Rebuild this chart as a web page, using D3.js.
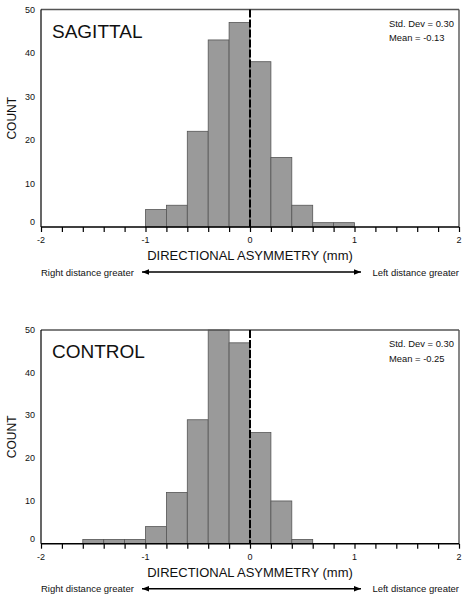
<!DOCTYPE html>
<html>
<head>
<meta charset="utf-8">
<script src="https://cdn.jsdelivr.net/npm/d3@7"></script>
<style>
  html, body { margin: 0; padding: 0; background: #fff; }
  svg { display: block; }
  text { font-family: "Liberation Sans", Arial, Helvetica, sans-serif; fill: #111; }
</style>
</head>
<body>
<svg id="chart" width="467" height="599"></svg>
<script>
// ---- data ----
const binWidth = 0.2;
const sagittalBins = [-1.0, -0.8, -0.6, -0.4, -0.2, 0.0, 0.2, 0.4, 0.6, 0.8];
const sagittalCounts = [4, 5, 22, 43, 47, 38, 16, 5, 1, 1];
const controlBins = [-1.6, -1.4, -1.2, -1.0, -0.8, -0.6, -0.4, -0.2, 0.0, 0.2, 0.4];
const controlCounts = [1, 1, 1, 4, 12, 29, 50, 47, 26, 10, 1];
const yTicks = [0, 10, 20, 30, 40, 50];
const xLabelTicks = [-2, -1, 0, 1, 2];
const xMinorTicks = d3.range(-10, 11).map(i => i / 5);
const panelTitles = ["SAGITTAL", "CONTROL"];
const statStd = ["Std. Dev = 0.30", "Std. Dev = 0.30"];
const statMean = ["Mean = -0.13", "Mean = -0.25"];
const xTitle = "DIRECTIONAL ASYMMETRY (mm)";
const yTitle = "COUNT";
const leftNote = "Right distance greater";
const rightNote = "Left distance greater";

const svg = d3.select("#chart");
const defs = svg.append("defs");
defs.append("marker").attr("id", "ah").attr("viewBox", "0 0 10 10")
  .attr("refX", 10).attr("refY", 5).attr("markerWidth", 7).attr("markerHeight", 7)
  .attr("markerUnits", "userSpaceOnUse").attr("orient", "auto-start-reverse")
  .append("path").attr("d", "M0,1 L10,5 L0,9 Z").attr("fill", "#000");

function panel(cfg) {
  const g = svg.append("g");
  const x = d3.scaleLinear().domain([-2, 2]).range([41, 459]);
  const y = d3.scaleLinear().domain([0, 50]).range([cfg.bottom, cfg.top]);

  // bars
  g.selectAll("rect.bar").data(cfg.bins.map((b, i) => ({ b, c: cfg.counts[i] })))
    .enter().append("rect")
    .attr("x", d => x(d.b))
    .attr("width", d => x(d.b + binWidth) - x(d.b))
    .attr("y", d => y(d.c))
    .attr("height", d => y(0) - y(d.c))
    .attr("fill", "#9a9a9a")
    .attr("stroke", "#555")
    .attr("stroke-width", 0.8);

  // frame top and right (gray)
  g.append("line").attr("x1", x(-2)).attr("x2", x(2)).attr("y1", y(50)).attr("y2", y(50))
    .attr("stroke", "#555").attr("stroke-width", 1.4);
  g.append("line").attr("x1", x(2)).attr("x2", x(2)).attr("y1", y(50)).attr("y2", y(0))
    .attr("stroke", "#555").attr("stroke-width", 1.4);

  // zero dashed line
  g.append("line").attr("x1", x(0)).attr("x2", x(0)).attr("y1", y(50)).attr("y2", y(0))
    .attr("stroke", "#000").attr("stroke-width", 2).attr("stroke-dasharray", "8,2");

  // left axis line
  g.append("line").attr("x1", x(-2)).attr("x2", x(-2)).attr("y1", y(50)).attr("y2", y(0))
    .attr("stroke", "#000").attr("stroke-width", 1.2);

  // y tick labels
  g.selectAll("text.yt").data(yTicks).enter().append("text")
    .attr("x", 35).attr("y", d => y(d) + (d === 0 ? -2 : 3))
    .attr("text-anchor", "end").attr("font-size", 9).attr("fill", "#333")
    .text(d => d);

  // x axis
  const xAxis = d3.axisBottom(x).tickValues(xMinorTicks).tickSize(5).tickFormat("");
  const ax = g.append("g").attr("transform", `translate(0,${y(0)})`).call(xAxis);
  ax.select(".domain").attr("stroke-width", 1.6).attr("d", `M${x(-2)},0H${x(2)}`);
  ax.selectAll(".tick line").attr("stroke-width", 1.2);
  g.selectAll("text.xt").data(xLabelTicks).enter().append("text")
    .attr("x", d => x(d)).attr("y", y(0) + 16)
    .attr("text-anchor", "middle").attr("font-size", 9).attr("fill", "#333")
    .text(d => d);

  // titles
  g.append("text").attr("x", 250).attr("y", y(0) + 33)
    .attr("text-anchor", "middle").attr("font-size", 13).text(xTitle);
  g.append("text").attr("transform", `translate(15.5,${(y(0) + y(50)) / 2}) rotate(-90)`)
    .attr("text-anchor", "middle").attr("font-size", 12).text(yTitle);
  g.append("text").attr("x", 52).attr("y", y(50) + 28).attr("font-size", 19).text(cfg.title);
  g.append("text").attr("x", 389).attr("y", y(50) + 17).attr("font-size", 9.4).text(cfg.std);
  g.append("text").attr("x", 389).attr("y", y(50) + 31.5).attr("font-size", 9.4).text(cfg.mean);

  // arrow notes
  const ay = y(0) + 45;
  g.append("text").attr("x", 41).attr("y", ay + 3.5).attr("font-size", 9.5).text(leftNote);
  g.append("text").attr("x", 459).attr("y", ay + 3.5).attr("text-anchor", "end").attr("font-size", 9.5).text(rightNote);
  g.append("line").attr("x1", 142).attr("x2", 361).attr("y1", ay).attr("y2", ay)
    .attr("stroke", "#000").attr("stroke-width", 1.5)
    .attr("marker-start", "url(#ah)").attr("marker-end", "url(#ah)");
}

panel({ top: 9.5, bottom: 227, bins: sagittalBins, counts: sagittalCounts,
        title: panelTitles[0], std: statStd[0], mean: statMean[0] });
panel({ top: 330, bottom: 543.7, bins: controlBins, counts: controlCounts,
        title: panelTitles[1], std: statStd[1], mean: statMean[1] });
</script>
</body>
</html>
